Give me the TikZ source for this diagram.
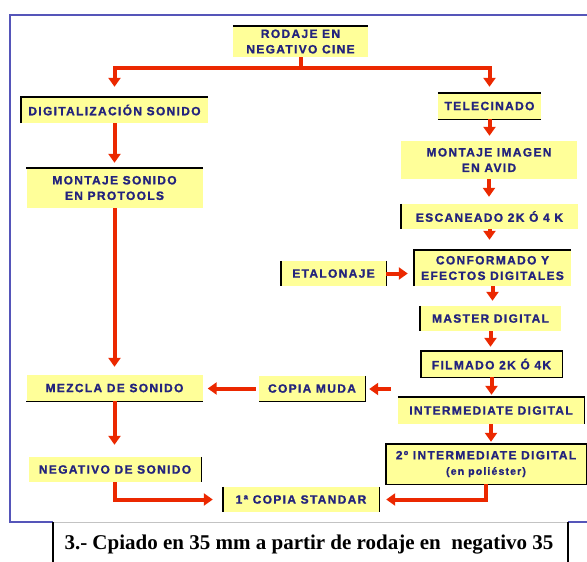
\documentclass[tikz,border=0pt]{standalone}
\usepackage{fontspec}
\setmainfont{Liberation Sans}
\newfontfamily\boxfont[LetterSpace=11, BoldFeatures={FakeBold=1.2}]{Liberation Sans}
\newfontfamily\capfont{Liberation Serif}
\usetikzlibrary{arrows.meta}
\definecolor{boxyellow}{RGB}{255,255,153}
\definecolor{boxtext}{RGB}{35,35,125}
\definecolor{arrred}{RGB}{235,40,0}
\definecolor{frameblue}{RGB}{85,85,185}
\definecolor{capgray}{RGB}{195,195,195}
\tikzset{
  stepbox/.style={fill=boxyellow, text=boxtext, inner sep=0pt, align=center,
    font=\boxfont\bfseries\fontsize{12}{15.5}\selectfont},
  edgeline/.style={draw=black, line width=1.4pt},
  flow/.style={draw=arrred, line width=4pt, -{Triangle[width=12pt,length=9pt]}},
  flowline/.style={draw=arrred, line width=4pt},
}
\begin{document}
\begin{tikzpicture}[x=1pt,y=-1pt]
\useasboundingbox (0,0) rectangle (587,562);
% frame
\draw[frameblue, line width=1.5pt] (590,15) -- (10,15) -- (10,522) -- (590,522);

% nodes
\node[stepbox, minimum width=135pt, minimum height=31pt] (rod) at (300.5,41.5) {RODAJE EN\\NEGATIVO CINE};
\node[stepbox, minimum width=187pt, minimum height=26pt] (dig) at (114.5,110) {DIGITALIZACIÓN SONIDO};
\node[stepbox, minimum width=103pt, minimum height=26pt] (tel) at (489.5,106) {TELECINADO};
\node[stepbox, minimum width=176pt, minimum height=38pt] (mimg) at (489,160) {MONTAJE IMAGEN\\EN AVID};
\node[stepbox, minimum width=176pt, minimum height=40pt] (mson) at (114.5,188) {MONTAJE SONIDO\\EN PROTOOLS};
\node[stepbox, minimum width=177pt, minimum height=25pt] (esc) at (489.5,216.5) {ESCANEADO 2K Ó 4 K};
\node[stepbox, minimum width=105pt, minimum height=25pt] (eta) at (333.5,273.5) {ETALONAJE};
\node[stepbox, minimum width=157pt, minimum height=36pt] (conf) at (492.5,268) {CONFORMADO Y\\EFECTOS DIGITALES};
\node[stepbox, minimum width=141pt, minimum height=25pt] (mas) at (490.5,318.5) {MASTER DIGITAL};
\node[stepbox, minimum width=141pt, minimum height=26pt] (fil) at (491.5,364) {FILMADO 2K Ó 4K};
\node[stepbox, minimum width=106pt, minimum height=25pt] (cop) at (312,388.5) {COPIA MUDA};
\node[stepbox, minimum width=176pt, minimum height=26pt] (mez) at (114.5,388) {MEZCLA DE SONIDO};
\node[stepbox, minimum width=186pt, minimum height=27pt] (int) at (491,410.5) {INTERMEDIATE DIGITAL};
\node[stepbox, minimum width=200pt, minimum height=40pt] (int2) at (486,464) {2º INTERMEDIATE DIGITAL\\{\fontsize{10.5}{15.5}\selectfont (en poliéster)}};
\node[stepbox, minimum width=172pt, minimum height=25pt] (neg) at (115,469.5) {NEGATIVO DE SONIDO};
\node[stepbox, minimum width=156pt, minimum height=25pt] (c1) at (301,499.5) {1ª COPIA STANDAR};

% partial black edges
\draw[edgeline] (rod.north west) -- (rod.north east);
\draw[edgeline] (dig.south west) -- (dig.north west) -- (dig.north east);
\draw[edgeline] (mson.north west) -- (mson.north east);
\draw[edgeline] (tel.north west) -- (tel.north east) (tel.south west) -- (tel.south east);
\draw[edgeline] (esc.north west) -- (esc.south west);
\draw[edgeline] (eta.north west) -- (eta.south west) (eta.north east) -- (eta.south east);
\draw[edgeline] (conf.south west) -- (conf.north west) -- (conf.north east);
\draw[edgeline] (mas.north west) -- (mas.south west);
\draw[edgeline] (fil.north west) rectangle (fil.south east);
\draw[edgeline] (cop.north east) -- (cop.south east) -- (cop.south west);
\draw[edgeline] (mez.south west) -- (mez.south east);
\draw[edgeline] (int.north west) -- (int.north east) -- (int.south east);
\draw[edgeline] (int2.north west) rectangle (int2.south east);
\draw[edgeline] (neg.north east) -- (neg.south east);
\draw[edgeline] (c1.north west) -- (c1.south west) (c1.north east) -- (c1.south east);

% connectors
\coordinate (fork) at (300.5,68);
\draw[flowline] (rod.south) -- (fork);
\draw[flow, shorten >=10pt] (fork) -| (dig.north);
\draw[flow, shorten >=6pt] (fork) -| (tel.north);
\draw[flow, shorten >=5pt] (dig.south) -- (dig.south |- mson.north);
\draw[flow, shorten >=8pt] (mson.south) -- (mson.south |- mez.north);
\draw[flow, shorten >=12pt] (mez.south) -- (mez.south |- neg.north);
\draw[flow, shorten >=10pt] (neg.south) |- (c1.west);
\draw[flow, shorten >=5pt] (tel.south) -- (tel.south |- mimg.north);
\draw[flow, shorten >=7pt] (mimg.south) -- (mimg.south |- esc.north);
\draw[flow, shorten >=10pt] (esc.south) -- (esc.south |- conf.north);
\draw[flow, shorten >=6pt] (eta.east) -- (eta.east -| conf.west);
\draw[flow, shorten >=5pt] (conf.south) -- (conf.south |- mas.north);
\draw[flow, shorten >=4pt] (mas.south) -- (mas.south |- fil.north);
\draw[flow, shorten >=2pt] (fil.south) -- (fil.south |- int.north);
\draw[flow, shorten >=2pt] (int.south) -- (int.south |- int2.north);
\draw[flow, shorten >=7pt] (int2.south) |- (c1.east);
\coordinate (mudasrc) at (391,389);
\draw[flow, shorten >=4pt] (mudasrc) -- (mudasrc -| cop.east);
\draw[flow, shorten <=3pt, shorten >=5pt] (cop.west) -- (cop.west -| mez.east);

% caption box
\fill[white] (53,520.5) rectangle (568,565);
\draw[capgray, line width=1pt] (53,522) -- (568,522);
\draw[black, line width=1.5pt] (53,522) -- (53,565) (568,522) -- (568,565);
\node[font=\capfont\bfseries\fontsize{21}{24}\selectfont, anchor=base, inner sep=0pt] (captxt) at (309,549.5) {3.- Cpiado en 35 mm a partir de rodaje en~ negativo 35};
\end{tikzpicture}
\end{document}
